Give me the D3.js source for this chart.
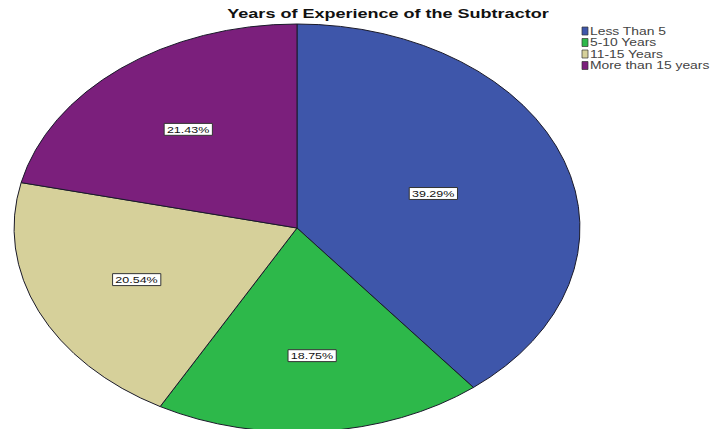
<!DOCTYPE html>
<html>
<head>
<meta charset="utf-8">
<script src="https://cdn.jsdelivr.net/npm/d3@7"></script>
<style>
  html, body { margin: 0; padding: 0; background: #ffffff; }
  svg { display: block; }
</style>
</head>
<body>
<div id="chart"></div>
<script>
const title = "Years of Experience of the Subtractor";
const categories = ["Less Than 5", "5-10 Years", "11-15 Years", "More than 15 years"];
const values = [39.29, 18.75, 20.54, 21.43];
const labels = ["39.29%", "18.75%", "20.54%", "21.43%"];
const colors = ["#3e56aa", "#2db84a", "#d6d09a", "#7b1f7c"];

const W = 713, H = 429;
const sx = 1.387;          // horizontal stretch of the original picture
const r = 204;
const cx = 297 / sx, cy = 228;

const svg = d3.select("#chart").append("svg")
  .attr("width", W).attr("height", H);

const g = svg.append("g").attr("transform", `scale(${sx},1)`);

const pie = d3.pie().sort(null).value(d => d.v);
const data = categories.map((c, i) => ({ c, v: values[i], lab: labels[i], col: colors[i] }));
const arcs = pie(data);
const arc = d3.arc().innerRadius(0).outerRadius(r);

const pg = g.append("g").attr("transform", `translate(${cx},${cy})`);
pg.selectAll("path").data(arcs).enter().append("path")
  .attr("d", arc)
  .attr("fill", d => d.data.col)
  .attr("stroke", "#1a1a2a")
  .attr("stroke-width", 1)
  .attr("vector-effect", "non-scaling-stroke");

// labels at sector centroid
const lg = pg.selectAll("g.lab").data(arcs).enter().append("g").attr("class", "lab")
  .attr("transform", d => {
    const a = (d.endAngle - d.startAngle) / 2;
    const m = (d.startAngle + d.endAngle) / 2;
    const dist = 2 * r * Math.sin(a) / (3 * a);
    return `translate(${dist * Math.sin(m)},${-dist * Math.cos(m)})`;
  });
lg.each(function(d) {
  const s = d3.select(this);
  const t = s.append("text")
    .attr("text-anchor", "middle")
    .attr("dy", "0.35em")
    .attr("font-family", "Arial, 'Liberation Sans', sans-serif")
    .attr("font-size", 9)
    .attr("fill", "#111")
    .text(d.data.lab);
  const bb = t.node().getBBox();
  s.insert("rect", "text")
    .attr("x", bb.x - 2).attr("y", bb.y - 1)
    .attr("width", bb.width + 4).attr("height", bb.height + 2)
    .attr("fill", "#ffffff")
    .attr("stroke", "#333")
    .attr("stroke-width", 1)
    .attr("vector-effect", "non-scaling-stroke");
});

// title
g.append("text")
  .attr("x", 388 / sx).attr("y", 18)
  .attr("text-anchor", "middle")
  .attr("font-family", "Arial, 'Liberation Sans', sans-serif")
  .attr("font-weight", "bold")
  .attr("font-size", 13)
  .attr("fill", "#111")
  .text(title);

// legend
const legX = 582 / sx, legY = 27, legStep = 11.5;
const leg = g.append("g");
const items = leg.selectAll("g").data(data).enter().append("g")
  .attr("transform", (d, i) => `translate(${legX},${legY + i * legStep})`);
items.append("rect")
  .attr("width", 6 / sx).attr("height", 8)
  .attr("fill", d => d.col)
  .attr("stroke", "#333")
  .attr("stroke-width", 0.7)
  .attr("vector-effect", "non-scaling-stroke");
items.append("text")
  .attr("x", 8 / sx).attr("y", 4).attr("dy", "0.35em")
  .attr("font-family", "Arial, 'Liberation Sans', sans-serif")
  .attr("font-size", 10)
  .attr("fill", "#444")
  .text(d => d.c);
</script>
</body>
</html>
